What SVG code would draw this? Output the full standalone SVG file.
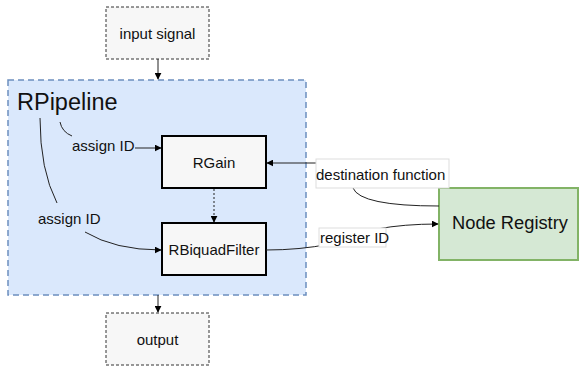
<svg xmlns="http://www.w3.org/2000/svg" width="580" height="368" viewBox="0 0 580 368">
<defs>
<marker id="ah" viewBox="0 0 10 10" refX="9" refY="5" markerWidth="7" markerHeight="7" orient="auto" markerUnits="userSpaceOnUse"><path d="M0,0 L10,5 L0,10 z" fill="#000"/></marker>
<style>
text{font-family:"Liberation Sans",Arial,sans-serif;fill:#111;}
.io{fill:#f7f7f7;stroke:#333;stroke-dasharray:3 2;stroke-width:1}
.blk{fill:#f7f7f7;stroke:#000;stroke-width:2}
.c{fill:none;stroke:#222;stroke-width:1}
.t{font-size:15px;text-anchor:middle}
.l{font-size:15px}
.lb{fill:#fff;stroke:#ddd;stroke-width:1}
</style>
</defs>
<g id="pipeline">
<rect x="8" y="80" width="298" height="215" fill="#dae8fc" stroke="#6c8ebf" stroke-width="1.5" stroke-dasharray="6 4"/>
<text x="17" y="110" font-size="23.5">RPipeline</text>
</g>
<g id="input"><rect class="io" x="106" y="7" width="103" height="52"/><text class="t" x="157.5" y="38.5">input signal</text></g>
<g id="output"><rect class="io" x="106" y="313" width="103" height="52"/><text class="t" x="157.5" y="344.5">output</text></g>
<g id="rgain"><rect class="blk" x="162" y="136" width="104" height="52"/><text class="t" x="214" y="167.5">RGain</text></g>
<g id="rbiquad"><rect class="blk" x="162" y="223" width="104" height="52"/><text class="t" x="214" y="254.5">RBiquadFilter</text></g>
<g id="registry"><rect x="439" y="188" width="139" height="72" fill="#d5e8d4" stroke="#82b366" stroke-width="2"/><text x="510" y="229" font-size="18.3" text-anchor="middle">Node Registry</text></g>
<g id="connectors">
<path class="c" d="M158,59 L158,79" marker-end="url(#ah)"/>
<path class="c" d="M158,295 L158,312" marker-end="url(#ah)"/>
<path class="c" d="M214,189 L214,222" stroke-dasharray="2 2" marker-end="url(#ah)"/>
<path class="c" d="M60,122 Q62,132 72,136"/>
<text class="l" x="72" y="150.5">assign ID</text>
<path class="c" d="M135,148 L161,148" marker-end="url(#ah)"/>
<path class="c" d="M40,118 Q40,170 57,203"/>
<text class="l" x="38" y="224">assign ID</text>
<path class="c" d="M85,232 Q115,250 161,250" marker-end="url(#ah)"/>
<path class="c" d="M316,163 L267,163" marker-end="url(#ah)"/>
<path class="c" d="M353,188 Q360,206 439,206"/>
<rect class="lb" x="316" y="159" width="133" height="29"/>
<text class="l" x="316" y="180">destination function</text>
<path class="c" d="M266,250 Q300,250 330,244 Q370,224 438,224" marker-end="url(#ah)"/>
<rect class="lb" x="319" y="228" width="67" height="19"/>
<text class="l" x="320" y="243">register ID</text>
</g>
</svg>
